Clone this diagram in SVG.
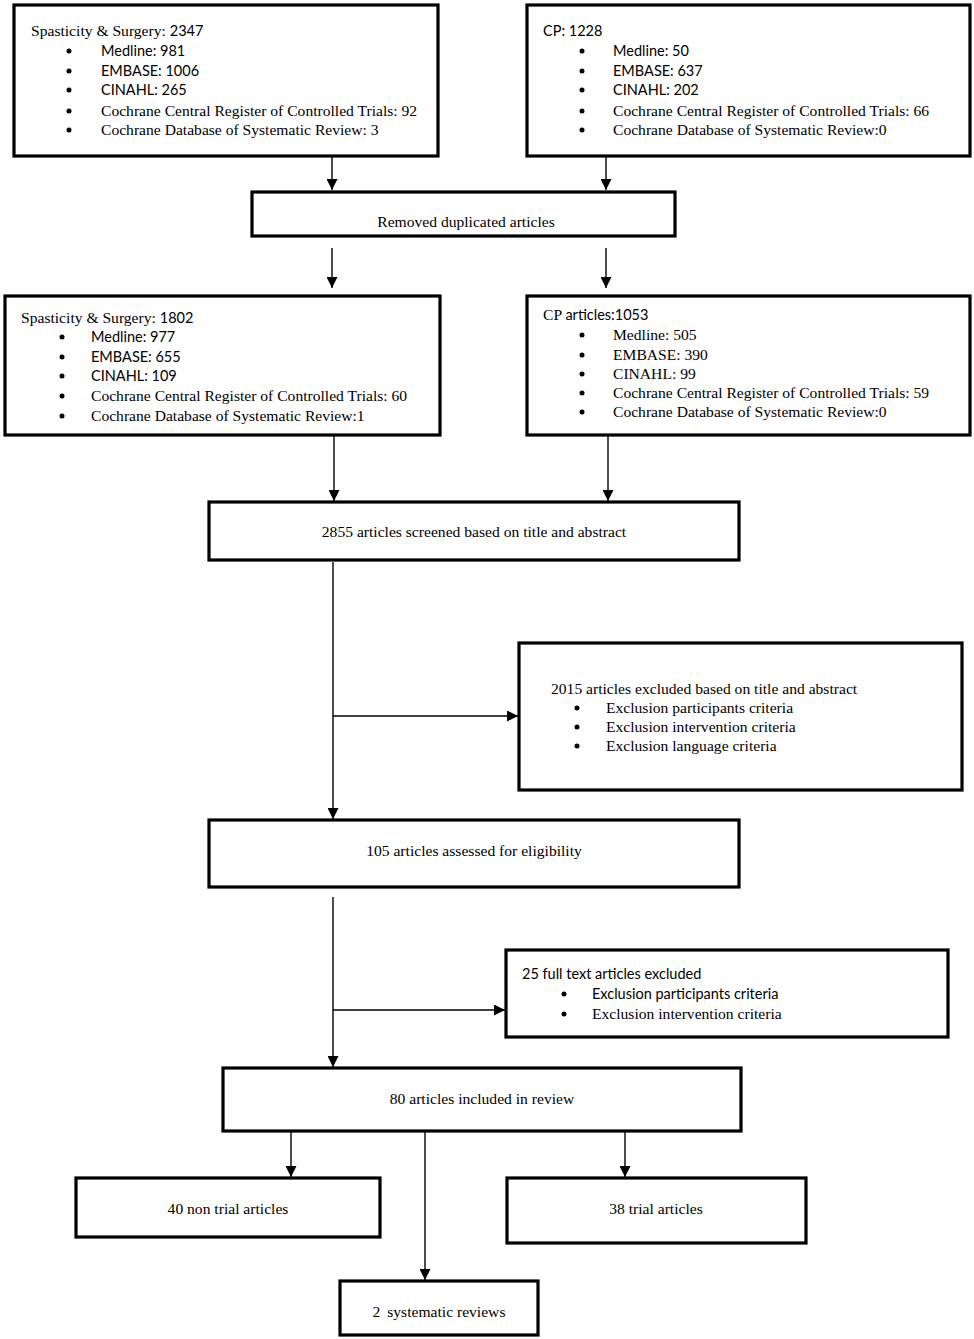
<svg xmlns="http://www.w3.org/2000/svg" width="974" height="1339" viewBox="0 0 974 1339">
<style>
.box{fill:#fff;stroke:#000;stroke-width:3.2}
.s{font-family:"Liberation Serif","Times New Roman",serif;font-size:15.6px;fill:#000}
.n{font-family:Lato,"Liberation Sans",sans-serif;font-size:14.5px;fill:#000}
.c{text-anchor:middle}
.con line{stroke:#000;stroke-width:1.4}
.b{fill:#000}
</style>
<defs>
<marker id="ah" viewBox="0 0 10 10" refX="10" refY="5" markerWidth="11" markerHeight="11" markerUnits="userSpaceOnUse" orient="auto">
<path d="M0,0 L10,5 L0,10 z" fill="#000"/>
</marker>
</defs>
<rect width="974" height="1339" fill="#fff"/>
<g class="con">
<line x1="332" y1="157" x2="332" y2="190" marker-end="url(#ah)"/>
<line x1="606" y1="157" x2="606" y2="190" marker-end="url(#ah)"/>
<line x1="332" y1="248" x2="332" y2="288" marker-end="url(#ah)"/>
<line x1="606" y1="248" x2="606" y2="288" marker-end="url(#ah)"/>
<line x1="334" y1="436" x2="334" y2="501" marker-end="url(#ah)"/>
<line x1="608" y1="436" x2="608" y2="501" marker-end="url(#ah)"/>
<line x1="333" y1="562" x2="333" y2="819" marker-end="url(#ah)"/>
<line x1="333" y1="716" x2="518" y2="716" marker-end="url(#ah)"/>
<line x1="333" y1="897" x2="333" y2="1067" marker-end="url(#ah)"/>
<line x1="333" y1="1010" x2="505" y2="1010" marker-end="url(#ah)"/>
<line x1="291" y1="1127" x2="291" y2="1177" marker-end="url(#ah)"/>
<line x1="425" y1="1132" x2="425" y2="1280" marker-end="url(#ah)"/>
<line x1="625" y1="1127" x2="625" y2="1177" marker-end="url(#ah)"/>
</g>
<g id="n1">
<rect class="box" x="14" y="5" width="424" height="151"/>
<text x="31" y="36" class="s">Spasticity &amp; Surgery: <tspan class="n">2347</tspan></text>
<circle class="b" cx="69" cy="51" r="2.5"/><text x="101" y="56" class="n">Medline: 981</text>
<circle class="b" cx="69" cy="71" r="2.5"/><text x="101" y="76" class="n">EMBASE: 1006</text>
<circle class="b" cx="69" cy="90" r="2.5"/><text x="101" y="95" class="n">CINAHL: 265</text>
<circle class="b" cx="69" cy="111" r="2.5"/><text x="101" y="116" class="s">Cochrane Central Register of Controlled Trials: 92</text>
<circle class="b" cx="69" cy="130" r="2.5"/><text x="101" y="135" class="s">Cochrane Database of Systematic Review: 3</text>
</g>
<g id="n2">
<rect class="box" x="527" y="5" width="443" height="151"/>
<text x="543" y="36" class="n">CP: 1228</text>
<circle class="b" cx="582" cy="51" r="2.5"/><text x="613" y="56" class="n">Medline: 50</text>
<circle class="b" cx="582" cy="71" r="2.5"/><text x="613" y="76" class="n">EMBASE: 637</text>
<circle class="b" cx="582" cy="90" r="2.5"/><text x="613" y="95" class="n">CINAHL: 202</text>
<circle class="b" cx="582" cy="111" r="2.5"/><text x="613" y="116" class="s">Cochrane Central Register of Controlled Trials: 66</text>
<circle class="b" cx="582" cy="130" r="2.5"/><text x="613" y="135" class="s">Cochrane Database of Systematic Review:0</text>
</g>
<g id="n3">
<rect class="box" x="252" y="192" width="423" height="44"/>
<text x="466" y="227" class="s c">Removed duplicated articles</text>
</g>
<g id="n4">
<rect class="box" x="5" y="296" width="435" height="139"/>
<text x="21" y="323" class="s">Spasticity &amp; Surgery: <tspan class="n">1802</tspan></text>
<circle class="b" cx="62" cy="337" r="2.5"/><text x="91" y="342" class="n">Medline: 977</text>
<circle class="b" cx="62" cy="357" r="2.5"/><text x="91" y="362" class="n">EMBASE: 655</text>
<circle class="b" cx="62" cy="376" r="2.5"/><text x="91" y="381" class="n">CINAHL: 109</text>
<circle class="b" cx="62" cy="396" r="2.5"/><text x="91" y="401" class="s">Cochrane Central Register of Controlled Trials: 60</text>
<circle class="b" cx="62" cy="416" r="2.5"/><text x="91" y="421" class="s">Cochrane Database of Systematic Review:1</text>
</g>
<g id="n5">
<rect class="box" x="527" y="296" width="443" height="139"/>
<text x="543" y="320" class="s">CP <tspan class="n">articles:1053</tspan></text>
<circle class="b" cx="582" cy="335" r="2.5"/><text x="613" y="340" class="s">Medline: 505</text>
<circle class="b" cx="582" cy="355" r="2.5"/><text x="613" y="360" class="s">EMBASE: 390</text>
<circle class="b" cx="582" cy="374" r="2.5"/><text x="613" y="379" class="s">CINAHL: 99</text>
<circle class="b" cx="582" cy="393" r="2.5"/><text x="613" y="398" class="s">Cochrane Central Register of Controlled Trials: 59</text>
<circle class="b" cx="582" cy="412" r="2.5"/><text x="613" y="417" class="s">Cochrane Database of Systematic Review:0</text>
</g>
<g id="n6">
<rect class="box" x="209" y="502" width="530" height="58"/>
<text x="474" y="537" class="s c">2855 articles screened based on title and abstract</text>
</g>
<g id="n7">
<rect class="box" x="519" y="643" width="443" height="147"/>
<text x="551" y="694" class="s">2015 articles excluded based on title and abstract</text>
<circle class="b" cx="577" cy="708" r="2.5"/><text x="606" y="713" class="s">Exclusion participants criteria</text>
<circle class="b" cx="577" cy="727" r="2.5"/><text x="606" y="732" class="s">Exclusion intervention criteria</text>
<circle class="b" cx="577" cy="746" r="2.5"/><text x="606" y="751" class="s">Exclusion language criteria</text>
</g>
<g id="n8">
<rect class="box" x="209" y="820" width="530" height="67"/>
<text x="474" y="856" class="s c">105 articles assessed for eligibility</text>
</g>
<g id="n9">
<rect class="box" x="506" y="950" width="442" height="87"/>
<text x="522" y="979" class="n">25 full text articles excluded</text>
<circle class="b" cx="564" cy="994" r="2.5"/><text x="592" y="999" class="n">Exclusion participants criteria</text>
<circle class="b" cx="564" cy="1014" r="2.5"/><text x="592" y="1019" class="s">Exclusion intervention criteria</text>
</g>
<g id="n10">
<rect class="box" x="223" y="1068" width="518" height="63"/>
<text x="482" y="1104" class="s c">80 articles included in review</text>
</g>
<g id="n11">
<rect class="box" x="76" y="1178" width="304" height="59"/>
<text x="228" y="1214" class="s c">40 non trial articles</text>
</g>
<g id="n12">
<rect class="box" x="507" y="1178" width="299" height="65"/>
<text x="656" y="1214" class="s c">38 trial articles</text>
</g>
<g id="n13">
<rect class="box" x="340" y="1281" width="198" height="54"/>
<text x="439" y="1317" class="s c">2 <tspan dx="3">systematic reviews</tspan></text>
</g>
</svg>
